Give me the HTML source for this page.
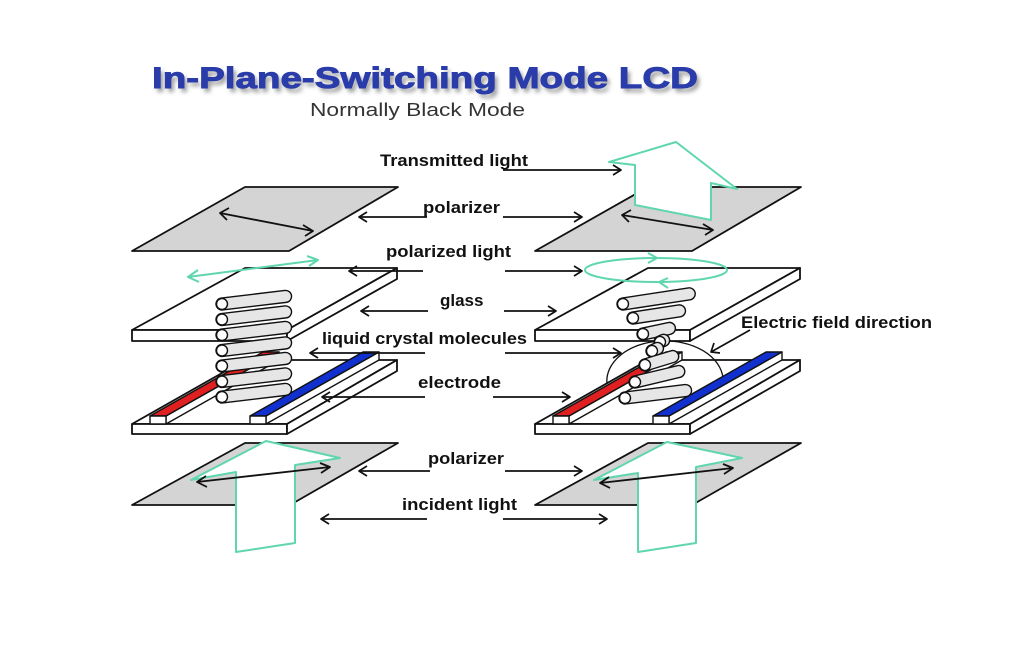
<!DOCTYPE html>
<html><head><meta charset="utf-8"><style>
html,body{margin:0;padding:0;background:#fff;}
svg{display:block;}
text{font-family:"Liberation Sans",Arial,sans-serif;}
</style></head><body>
<svg width="1010" height="654" viewBox="0 0 1010 654" xmlns="http://www.w3.org/2000/svg">
<defs>
<filter id="blur" x="-10%" y="-50%" width="120%" height="200%"><feGaussianBlur stdDeviation="2.2"/></filter>
</defs>
<rect width="1010" height="654" fill="#fff"/>

<!-- Title -->
<text x="155" y="92" font-size="30" font-weight="bold" fill="#9a9a9a" textLength="546" lengthAdjust="spacingAndGlyphs" filter="url(#blur)">In-Plane-Switching Mode LCD</text>
<text x="152" y="88" font-size="30" font-weight="bold" fill="#2a3caa" stroke="#2a3caa" stroke-width="0.9" textLength="546" lengthAdjust="spacingAndGlyphs">In-Plane-Switching Mode LCD</text>
<text x="310" y="116" font-size="18" fill="#333" textLength="215" lengthAdjust="spacingAndGlyphs">Normally Black Mode</text>

<g stroke="#111" stroke-width="1.8" stroke-linejoin="round" fill="none">
<!-- ============ LEFT ASSEMBLY ============ -->
<polygon points="245,187 398,187 289,251 132,251" fill="#d4d4d4"/>
<line x1="220" y1="213" x2="313" y2="231"/>
<polyline points="229,208 220,213 227,220"/>
<polyline points="303,225 313,231 305,236"/>

<polygon points="245,268 397,268 287,330 132,330" fill="#fff"/>
<polygon points="132,330 287,330 287,341 132,341" fill="#fff"/>
<polygon points="287,330 397,268 397,279 287,341" fill="#fff"/>

<polygon points="245,360 397,360 287,424 132,424" fill="#fff"/>
<polygon points="132,424 287,424 287,434 132,434" fill="#fff"/>
<polygon points="287,424 397,360 397,371 287,434" fill="#fff"/>
<polygon points="166,416 166,424 279,360 279,352" fill="#fff" stroke-width="1.4"/>
<polygon points="150,416 166,416 279,352 263,352" fill="#e02020" stroke-width="1.4"/>
<rect x="150" y="416" width="16" height="8" fill="#fff" stroke-width="1.4"/>
<polygon points="266,416 266,424 379,360 379,352" fill="#fff" stroke-width="1.4"/>
<polygon points="250,416 266,416 379,352 363,352" fill="#1030d0" stroke-width="1.4"/>
<rect x="250" y="416" width="16" height="8" fill="#fff" stroke-width="1.4"/>

<polygon points="245,443 398,443 290,505 132,505" fill="#d4d4d4"/>
</g>

<!-- left cylinders -->
<g stroke="#111" stroke-width="1.4">
<g transform="translate(222,304) rotate(-6.8)"><rect x="-6" y="-6" width="76" height="12" rx="6" fill="#e6e6e6"/><circle r="5.5" fill="#fff"/></g>
<g transform="translate(222,319.5) rotate(-6.8)"><rect x="-6" y="-6" width="76" height="12" rx="6" fill="#e6e6e6"/><circle r="5.5" fill="#fff"/></g>
<g transform="translate(222,335) rotate(-6.8)"><rect x="-6" y="-6" width="76" height="12" rx="6" fill="#e6e6e6"/><circle r="5.5" fill="#fff"/></g>
<g transform="translate(222,350.5) rotate(-6.8)"><rect x="-6" y="-6" width="76" height="12" rx="6" fill="#e6e6e6"/><circle r="5.5" fill="#fff"/></g>
<g transform="translate(222,366) rotate(-6.8)"><rect x="-6" y="-6" width="76" height="12" rx="6" fill="#e6e6e6"/><circle r="5.5" fill="#fff"/></g>
<g transform="translate(222,381.5) rotate(-6.8)"><rect x="-6" y="-6" width="76" height="12" rx="6" fill="#e6e6e6"/><circle r="5.5" fill="#fff"/></g>
<g transform="translate(222,397) rotate(-6.8)"><rect x="-6" y="-6" width="76" height="12" rx="6" fill="#e6e6e6"/><circle r="5.5" fill="#fff"/></g>
</g>

<g stroke="#5fd6ad" stroke-width="2" fill="none" stroke-linejoin="round">
<line x1="188" y1="277" x2="318" y2="260"/>
<polyline points="198,270 188,277 199,282"/>
<polyline points="307,256 318,260 309,266"/>
</g>

<!-- left incident arrow -->
<polygon points="236,472 191,480 266,441 340,458 295,465 295,543 236,552" fill="#fff" stroke="#5fd6ad" stroke-width="2" stroke-linejoin="round"/>
<g stroke="#111" stroke-width="1.8" fill="none" stroke-linejoin="round">
<line x1="197" y1="482" x2="330" y2="467"/>
<polyline points="206,476 197,482 207,487"/>
<polyline points="320,463 330,467 321,473"/>
</g>

<!-- ============ RIGHT ASSEMBLY ============ -->
<g stroke="#111" stroke-width="1.8" stroke-linejoin="round" fill="none">
<polygon points="648,187 801,187 692,251 535,251" fill="#d4d4d4"/>
</g>
<polygon points="609,162 676,142 737,189 711,183 711,220 635,205 635,165" fill="#fff" stroke="#5fd6ad" stroke-width="2" stroke-linejoin="round"/>
<g stroke="#111" stroke-width="1.8" fill="none" stroke-linejoin="round">
<line x1="622" y1="215" x2="713" y2="230"/>
<polyline points="631,210 622,215 629,222"/>
<polyline points="703,224 713,230 705,235"/>

<polygon points="648,268 800,268 690,330 535,330" fill="#fff"/>
<polygon points="535,330 690,330 690,341 535,341" fill="#fff"/>
<polygon points="690,330 800,268 800,279 690,341" fill="#fff"/>

<polygon points="648,360 800,360 690,424 535,424" fill="#fff"/>
<polygon points="535,424 690,424 690,434 535,434" fill="#fff"/>
<polygon points="690,424 800,360 800,371 690,434" fill="#fff"/>
<path d="M607,384 A58,40 0 0 1 723,378" stroke-width="1.3"/>
<polygon points="569,416 569,424 682,360 682,352" fill="#fff" stroke-width="1.4"/>
<polygon points="553,416 569,416 682,352 666,352" fill="#e02020" stroke-width="1.4"/>
<rect x="553" y="416" width="16" height="8" fill="#fff" stroke-width="1.4"/>
<polygon points="669,416 669,424 782,360 782,352" fill="#fff" stroke-width="1.4"/>
<polygon points="653,416 669,416 782,352 766,352" fill="#1030d0" stroke-width="1.4"/>
<rect x="653" y="416" width="16" height="8" fill="#fff" stroke-width="1.4"/>

<polygon points="648,443 801,443 692,505 535,505" fill="#d4d4d4"/>
</g>

<g stroke="#5fd6ad" stroke-width="2" fill="none" stroke-linejoin="round">
<ellipse cx="656" cy="270" rx="71" ry="12"/>
<polyline points="648,253 657,258 648,263"/>
<polyline points="668,278 659,282 668,288"/>
</g>

<!-- right cylinders -->
<g stroke="#111" stroke-width="1.4">
<g transform="translate(623,304) rotate(-8.7)"><rect x="-6" y="-6" width="79" height="12" rx="6" fill="#e6e6e6"/><circle r="5.5" fill="#fff"/></g>
<g transform="translate(633,318) rotate(-8.7)"><rect x="-6" y="-6" width="59" height="12" rx="6" fill="#e6e6e6"/><circle r="5.5" fill="#fff"/></g>
<g transform="translate(643,334) rotate(-12)"><rect x="-6" y="-6" width="39" height="12" rx="6" fill="#e6e6e6"/><circle r="5.5" fill="#fff"/></g>
<g transform="translate(660,342) rotate(-25)"><rect x="-6" y="-6" width="16" height="12" rx="6" fill="#e6e6e6"/><circle r="5.5" fill="#fff"/></g>
<g transform="translate(652,351) rotate(-25)"><rect x="-6" y="-6" width="18" height="12" rx="6" fill="#e6e6e6"/><circle r="5.5" fill="#fff"/></g>
<g transform="translate(645,365) rotate(-17)"><rect x="-6" y="-6" width="41" height="12" rx="6" fill="#e6e6e6"/><circle r="5.5" fill="#fff"/></g>
<g transform="translate(635,382) rotate(-13.5)"><rect x="-6" y="-6" width="57" height="12" rx="6" fill="#e6e6e6"/><circle r="5.5" fill="#fff"/></g>
<g transform="translate(625,398) rotate(-7)"><rect x="-6" y="-6" width="73" height="12" rx="6" fill="#e6e6e6"/><circle r="5.5" fill="#fff"/></g>
</g>

<!-- right incident arrow -->
<polygon points="638,473 594,480 667,442 742,458 696,467 696,543 638,552" fill="#fff" stroke="#5fd6ad" stroke-width="2" stroke-linejoin="round"/>
<g stroke="#111" stroke-width="1.8" fill="none" stroke-linejoin="round">
<line x1="600" y1="483" x2="733" y2="468"/>
<polyline points="609,477 600,483 610,488"/>
<polyline points="723,464 733,468 724,474"/>
</g>

<!-- ============ LABEL ARROWS ============ -->
<g stroke="#111" stroke-width="1.7" fill="none" stroke-linejoin="round">
<line x1="503" y1="170" x2="621" y2="170"/><polyline points="613,165 621,170 613,175"/>
<line x1="427" y1="217" x2="359" y2="217"/><polyline points="367,212 359,217 367,222"/>
<line x1="503" y1="217" x2="582" y2="217"/><polyline points="574,212 582,217 574,222"/>
<line x1="423" y1="271" x2="349" y2="271"/><polyline points="357,266 349,271 357,276"/>
<line x1="505" y1="271" x2="582" y2="271"/><polyline points="574,266 582,271 574,276"/>
<line x1="428" y1="311" x2="361" y2="311"/><polyline points="369,306 361,311 369,316"/>
<line x1="504" y1="311" x2="556" y2="311"/><polyline points="548,306 556,311 548,316"/>
<line x1="425" y1="353" x2="310" y2="353"/><polyline points="318,348 310,353 318,358"/>
<line x1="505" y1="353" x2="621" y2="353"/><polyline points="613,348 621,353 613,358"/>
<line x1="425" y1="397" x2="322" y2="397"/><polyline points="330,392 322,397 330,402"/>
<line x1="493" y1="397" x2="570" y2="397"/><polyline points="562,392 570,397 562,402"/>
<line x1="430" y1="471" x2="359" y2="471"/><polyline points="367,466 359,471 367,476"/>
<line x1="505" y1="471" x2="582" y2="471"/><polyline points="574,466 582,471 574,476"/>
<line x1="427" y1="519" x2="321" y2="519"/><polyline points="329,514 321,519 329,524"/>
<line x1="503" y1="519" x2="607" y2="519"/><polyline points="599,514 607,519 599,524"/>
<line x1="750" y1="330" x2="711" y2="352"/><polyline points="714,343 711,352 720,353"/>
</g>

<!-- ============ LABELS ============ -->
<g font-size="17" font-weight="bold" fill="#111">
<text x="380" y="166" textLength="148" lengthAdjust="spacingAndGlyphs">Transmitted light</text>
<text x="423" y="213" textLength="77" lengthAdjust="spacingAndGlyphs">polarizer</text>
<text x="386" y="257" textLength="125" lengthAdjust="spacingAndGlyphs">polarized light</text>
<text x="440" y="306">glass</text>
<text x="322" y="344" textLength="205" lengthAdjust="spacingAndGlyphs">liquid crystal molecules</text>
<text x="418" y="388" textLength="83" lengthAdjust="spacingAndGlyphs">electrode</text>
<text x="428" y="464" textLength="76" lengthAdjust="spacingAndGlyphs">polarizer</text>
<text x="402" y="510" textLength="115" lengthAdjust="spacingAndGlyphs">incident light</text>
<text x="741" y="328" textLength="191" lengthAdjust="spacingAndGlyphs">Electric field direction</text>
</g>
</svg>
</body></html>
